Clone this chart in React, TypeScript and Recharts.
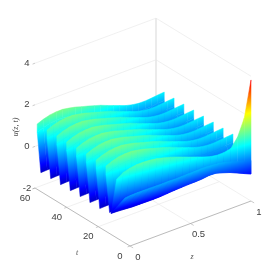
import { ReactElement } from 'react';
import { ReferenceLine, Scatter, ScatterChart, XAxis, YAxis } from 'recharts';

const WIDTH = 278;
const HEIGHT = 276;

// colour limits of the jet map
const U_MIN = -1.5;
const U_MAX = 4.5;

const zTicks = [0, 0.5, 1];
const tTicks = [0, 20, 40, 60];
const uTicks = [-2, 0, 2, 4];

const zGrid = [0, 0.05, 0.1, 0.15, 0.2, 0.25, 0.3, 0.35, 0.4, 0.45, 0.5, 0.55, 0.6, 0.65, 0.7, 0.75, 0.8, 0.85, 0.9, 0.95, 1];

// t where each of the eight repeating ridges meets z = 0, back to front
const ridgeStartT = [58.6, 52.4, 46.2, 40, 33.8, 27.6, 21.4, 15.2];
const ridgeSlant = 3.8;
const ridgeDropT = 2.3;
const ridgeKneeDrop = 0.4;

// crest of a repeating ridge
const ridgeTopU = [1.14, 1.28, 1.38, 1.43, 1.45, 1.41, 1.36, 1.28, 1.21, 1.13, 1.05, 0.94, 0.84, 0.74, 0.64, 0.58, 0.55, 0.56, 0.6, 0.65, 0.69];
// lower rim of the surface
const bottomU = [-0.99, -0.96, -0.94, -0.92, -0.88, -0.84, -0.8, -0.75, -0.68, -0.61, -0.55, -0.49, -0.44, -0.38, -0.29, -0.26, -0.32, -0.39, -0.49, -0.6, -0.7];
// the two front crests, the first one ends in the spike at z = 1
const spikeTopU = [0.83, 1.06, 1.18, 1.26, 1.29, 1.3, 1.28, 1.23, 1.17, 1.09, 1.0, 0.91, 0.83, 0.74, 0.67, 0.65, 0.69, 0.79, 1.25, 2.08, 3.82];
const frontTopU = [0.16, 0.2, 0.22, 0.23, 0.24, 0.24, 0.25, 0.27, 0.27, 0.29, 0.31, 0.32, 0.35, 0.35, 0.34, 0.32, 0.26, 0.19, 0.1, 0.02, -0.05];

const project = (z: number, t: number, u: number) => ({
  x: 130 + 121 * z - (95 * t) / 60,
  y: 246 - 45 * z - (58 * t) / 60 - 20.8 * (u + 2),
});

type Vertex = { x: number; y: number; u: number };
type Quad = { x: number; y: number; id: string; v: Vertex[] };

const jet = (u: number) => {
  const n = Math.min(1, Math.max(0, (u - U_MIN) / (U_MAX - U_MIN)));
  const c = (d: number) => Math.round(255 * Math.min(1, Math.max(0, 1.5 - Math.abs(4 * n - d))));
  return `rgb(${c(3)},${c(2)},${c(1)})`;
};

const rung = (ts: number[], us: number[]) => zGrid.map((z, i) => ({ ...project(z, ts[i], us[i]), u: us[i] }));

const panels: Vertex[][][] = [
  ...ridgeStartT.map((t0, k) => {
    const crestT = zGrid.map((z) => t0 - ridgeSlant * z);
    const shift = k < 7 ? -0.1 : 0;
    return [
      rung(crestT, ridgeTopU),
      rung(crestT, ridgeTopU.map((u) => u - ridgeKneeDrop)),
      rung(crestT.map((t) => t - ridgeDropT), bottomU.map((u) => u + shift)),
    ];
  }),
  [rung(zGrid.map((z) => 8.4 * (1 - z)), spikeTopU), rung(zGrid.map((z) => 12 * (1 - z)), bottomU)],
  [rung(zGrid.map((z) => 3.2 * (1 - z)), frontTopU), rung(zGrid.map((z) => 12 * (1 - z)), bottomU)],
];

const quads: Quad[] = [];
panels.forEach((rungs) => {
  for (let r = 0; r < rungs.length - 1; r++) {
    for (let i = 0; i < zGrid.length - 1; i++) {
      const v = [rungs[r][i], rungs[r][i + 1], rungs[r + 1][i + 1], rungs[r + 1][i]];
      quads.push({
        x: (v[0].x + v[1].x + v[2].x + v[3].x) / 4,
        y: (v[0].y + v[1].y + v[2].y + v[3].y) / 4,
        id: `quad-${quads.length}`,
        v,
      });
    }
  }
});

// one linear gradient per cell, fitted to how u runs across it
const QuadShape = (props: any): ReactElement => {
  const { cx, cy, payload } = props;
  const quad: Quad = payload;
  const dx = cx - quad.x;
  const dy = cy - quad.y;
  const [a, b, c, d] = quad.v.map((p) => ({ x: p.x + dx, y: p.y + dy, u: p.u }));
  const points = [a, b, c, d].map((p) => `${p.x},${p.y}`).join(' ');
  const x1 = (b.x + c.x - a.x - d.x) / 2;
  const y1 = (b.y + c.y - a.y - d.y) / 2;
  const u1 = (b.u + c.u - a.u - d.u) / 2;
  const x2 = (c.x + d.x - a.x - b.x) / 2;
  const y2 = (c.y + d.y - a.y - b.y) / 2;
  const u2 = (c.u + d.u - a.u - b.u) / 2;
  const det = x1 * y2 - x2 * y1;
  const lo = Math.min(a.u, b.u, c.u, d.u);
  const hi = Math.max(a.u, b.u, c.u, d.u);
  const span = hi - lo;
  const mean = (a.u + b.u + c.u + d.u) / 4;
  if (Math.abs(det) < 1e-6 || span < 1e-4) {
    return <polygon points={points} fill={jet(mean)} stroke={jet(mean)} strokeWidth={0.5} />;
  }
  const gx = (u1 * y2 - u2 * y1) / det;
  const gy = (x1 * u2 - x2 * u1) / det;
  const g2 = gx * gx + gy * gy;
  const knots = [0.125, 0.375, 0.625, 0.875].map((n) => U_MIN + n * (U_MAX - U_MIN)).filter((u) => u > lo && u < hi);
  const stops = [lo, ...knots, hi];
  const url = `url(#${quad.id})`;
  return (
    <g>
      <defs>
        <linearGradient
          id={quad.id}
          gradientUnits="userSpaceOnUse"
          x1={cx + (gx * (lo - mean)) / g2}
          y1={cy + (gy * (lo - mean)) / g2}
          x2={cx + (gx * (hi - mean)) / g2}
          y2={cy + (gy * (hi - mean)) / g2}
        >
          {stops.map((u) => (
            <stop key={u} offset={(u - lo) / span} stopColor={jet(u)} />
          ))}
        </linearGradient>
      </defs>
      <polygon points={points} fill={url} stroke={url} strokeWidth={0.5} />
    </g>
  );
};

type Lbl = { x: number; y: number; text: string; size: number; font: string; italic?: boolean; rotate?: number; color: string };

const SANS = '"Liberation Sans", Arial, sans-serif';
const SERIF = '"Liberation Serif", serif';
const TICK_COLOR = '#404040';

const tickLabels: Lbl[] = [
  ...uTicks.map((u) => {
    const p = project(0, 60, u);
    return { x: p.x - 8, y: p.y - 1, text: String(u), size: 9.5, font: SANS, color: TICK_COLOR };
  }),
  ...tTicks.map((t) => {
    const p = project(0, t, -2);
    return { x: p.x - 10, y: p.y + 9, text: String(t), size: 9.5, font: SANS, color: TICK_COLOR };
  }),
  ...zTicks.map((z) => {
    const p = project(z, 0, -2);
    return { x: p.x + 8, y: p.y + 10, text: String(z), size: 9.5, font: SANS, color: TICK_COLOR };
  }),
];

const axisLabels: Lbl[] = [
  { x: 192, y: 256, text: 'z', size: 8, font: SERIF, italic: true, color: '#555' },
  { x: 77, y: 252, text: 't', size: 8, font: SERIF, italic: true, color: '#555' },
  { x: 15, y: 127, text: 'u(z, t)', size: 8, font: SERIF, italic: true, rotate: -90, color: '#444' },
];

const TextShape = (props: any): ReactElement => {
  const { cx, cy, payload } = props;
  const l: Lbl = payload;
  return (
    <text
      x={cx}
      y={cy}
      textAnchor="middle"
      dominantBaseline="central"
      fontSize={l.size}
      fontFamily={l.font}
      fontStyle={l.italic ? 'italic' : 'normal'}
      fill={l.color}
      transform={l.rotate ? `rotate(${l.rotate} ${cx} ${cy})` : undefined}
    >
      {l.text}
    </text>
  );
};

const seg = (a: { x: number; y: number }, b: { x: number; y: number }) => [
  { x: a.x, y: a.y },
  { x: b.x, y: b.y },
];

const gridSegments = [
  ...uTicks.slice(1).flatMap((u) => [seg(project(0, 60, u), project(1, 60, u)), seg(project(1, 60, u), project(1, 0, u))]),
  ...zTicks.slice(1).map((z) => seg(project(z, 0, -2), project(z, 60, -2))),
  ...tTicks.slice(1).map((t) => seg(project(0, t, -2), project(1, t, -2))),
];
const axisSegments = [seg(project(0, 0, -2), project(1, 0, -2)), seg(project(0, 0, -2), project(0, 60, -2))];
const tickSegments = [
  ...uTicks.map((u) => seg(project(0, 60, u), project(-0.02, 60, u))),
  ...zTicks.map((z) => seg(project(z, 0, -2), project(z, -2, -2))),
  ...tTicks.map((t) => seg(project(0, t, -2), project(-0.02, t, -2))),
];

export default function App() {
  return (
    <div style={{ position: 'absolute', left: 0, top: 0, width: WIDTH, height: HEIGHT, background: '#fff', filter: 'blur(0.5px)' }}>
      <ScatterChart width={WIDTH} height={HEIGHT} margin={{ top: 0, right: 0, bottom: 0, left: 0 }}>
        <XAxis type="number" dataKey="x" domain={[0, WIDTH]} hide />
        <YAxis type="number" dataKey="y" domain={[0, HEIGHT]} reversed hide />
        {gridSegments.map((s, i) => (
          <ReferenceLine key={`g${i}`} segment={s} stroke="#eaeaea" strokeWidth={0.7} ifOverflow="visible" />
        ))}
        <ReferenceLine
          segment={seg(project(1, 60, -2), project(1, 60, 4))}
          stroke="#e6e6e6"
          strokeWidth={1.6}
          ifOverflow="visible"
        />
        {axisSegments.map((s, i) => (
          <ReferenceLine key={`a${i}`} segment={s} stroke="#a8a8a8" strokeWidth={0.8} ifOverflow="visible" />
        ))}
        {tickSegments.map((s, i) => (
          <ReferenceLine key={`t${i}`} segment={s} stroke="#a8a8a8" strokeWidth={0.6} ifOverflow="visible" />
        ))}
        <Scatter data={quads} shape={QuadShape} isAnimationActive={false} />
        <Scatter data={tickLabels} shape={TextShape} isAnimationActive={false} />
        <Scatter data={axisLabels} shape={TextShape} isAnimationActive={false} />
      </ScatterChart>
    </div>
  );
}
